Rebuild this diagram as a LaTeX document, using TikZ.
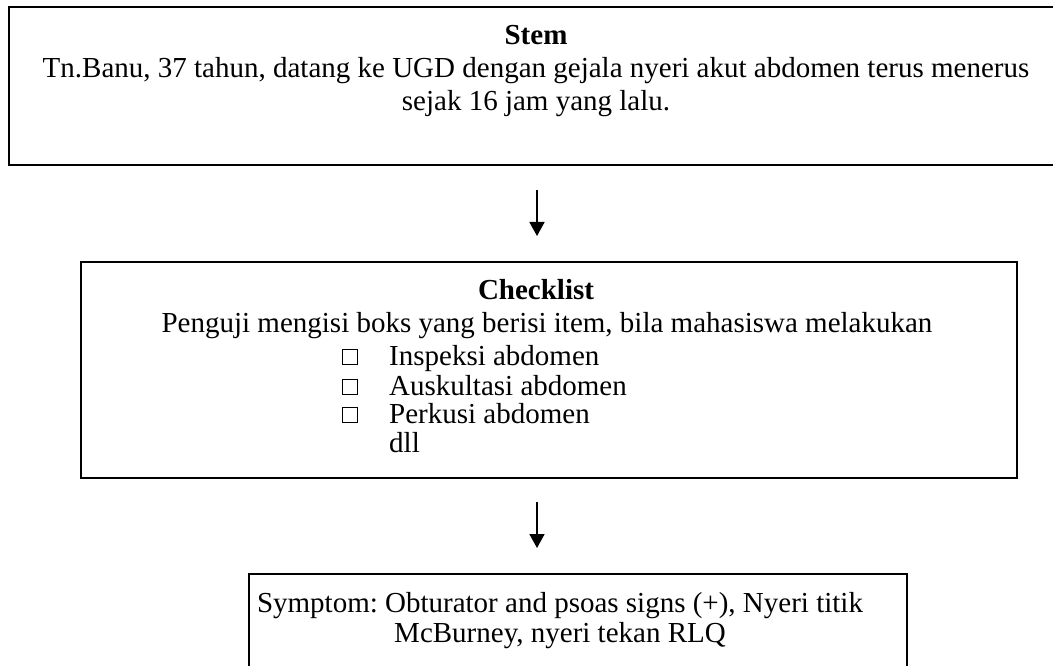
\documentclass[tikz,border=0pt]{standalone}
\usepackage{fontspec}
\setmainfont{Liberation Serif}
\usetikzlibrary{arrows.meta}
\frenchspacing
\begin{document}
\begin{tikzpicture}[x=1pt,y=-1pt,
  box/.style={draw, line width=2pt, inner sep=0pt, anchor=north west},
  txt/.style={anchor=base, inner sep=0pt, font=\fontsize{29}{33}\selectfont},
  txtb/.style={txt, font=\fontsize{29}{33}\selectfont\bfseries},
  item/.style={txt, anchor=base west},
  chk/.style={draw, line width=1.3pt, minimum size=14.5pt, inner sep=0pt},
  flow/.style={line width=1.7pt, -{Triangle[length=14pt,width=15pt]}}]
\useasboundingbox (0,0) rectangle (1053,666);
\clip (0,0) rectangle (1053,666);
% boxes
\node[box, minimum width=1056pt, minimum height=158pt] (stem) at (8,6.5) {};
\node[box, minimum width=936pt, minimum height=216pt] (check) at (80,261) {};
\node[box, minimum width=658pt, minimum height=150pt] (symptom) at (248,572.5) {};
% stem texts
\node[txtb] (stemT) at (536,45) {Stem};
\node[txt] (stemL1) at (536,78) {Tn.Banu, 37 tahun, datang ke UGD dengan gejala nyeri akut abdomen terus menerus};
\node[txt] (stemL2) at (536,111) {sejak 16 jam yang lalu.};
% checklist texts
\node[txtb] (checkT) at (536,299) {Checklist};
\node[txt] (checkL1) at (547,332) {Penguji mengisi boks yang berisi item, bila mahasiswa melakukan};
\node[item] (it1) at (389,365) {Inspeksi abdomen};
\node[item] (it2) at (389,395) {Auskultasi abdomen};
\node[item] (it3) at (389,423) {Perkusi abdomen};
\node[item] (it4) at (389,452) {dll};
\node[chk] (c1) at (350,357) {};
\node[chk] (c2) at (350,387) {};
\node[chk] (c3) at (350,415) {};
% symptom texts
\node[txt] (symL1) at (560,612) {Symptom: Obturator and psoas signs (+), Nyeri titik};
\node[txt] (symL2) at (560,642) {McBurney, nyeri tekan RLQ};
% connectors
\draw[flow, shorten <=23.5pt, shorten >=25pt] (stem.south) -- (stem.south |- check.north);
\draw[flow, shorten <=23pt, shorten >=24.5pt] (check.south -| stem.south) -- (stem.south |- symptom.north);
\end{tikzpicture}
\end{document}
